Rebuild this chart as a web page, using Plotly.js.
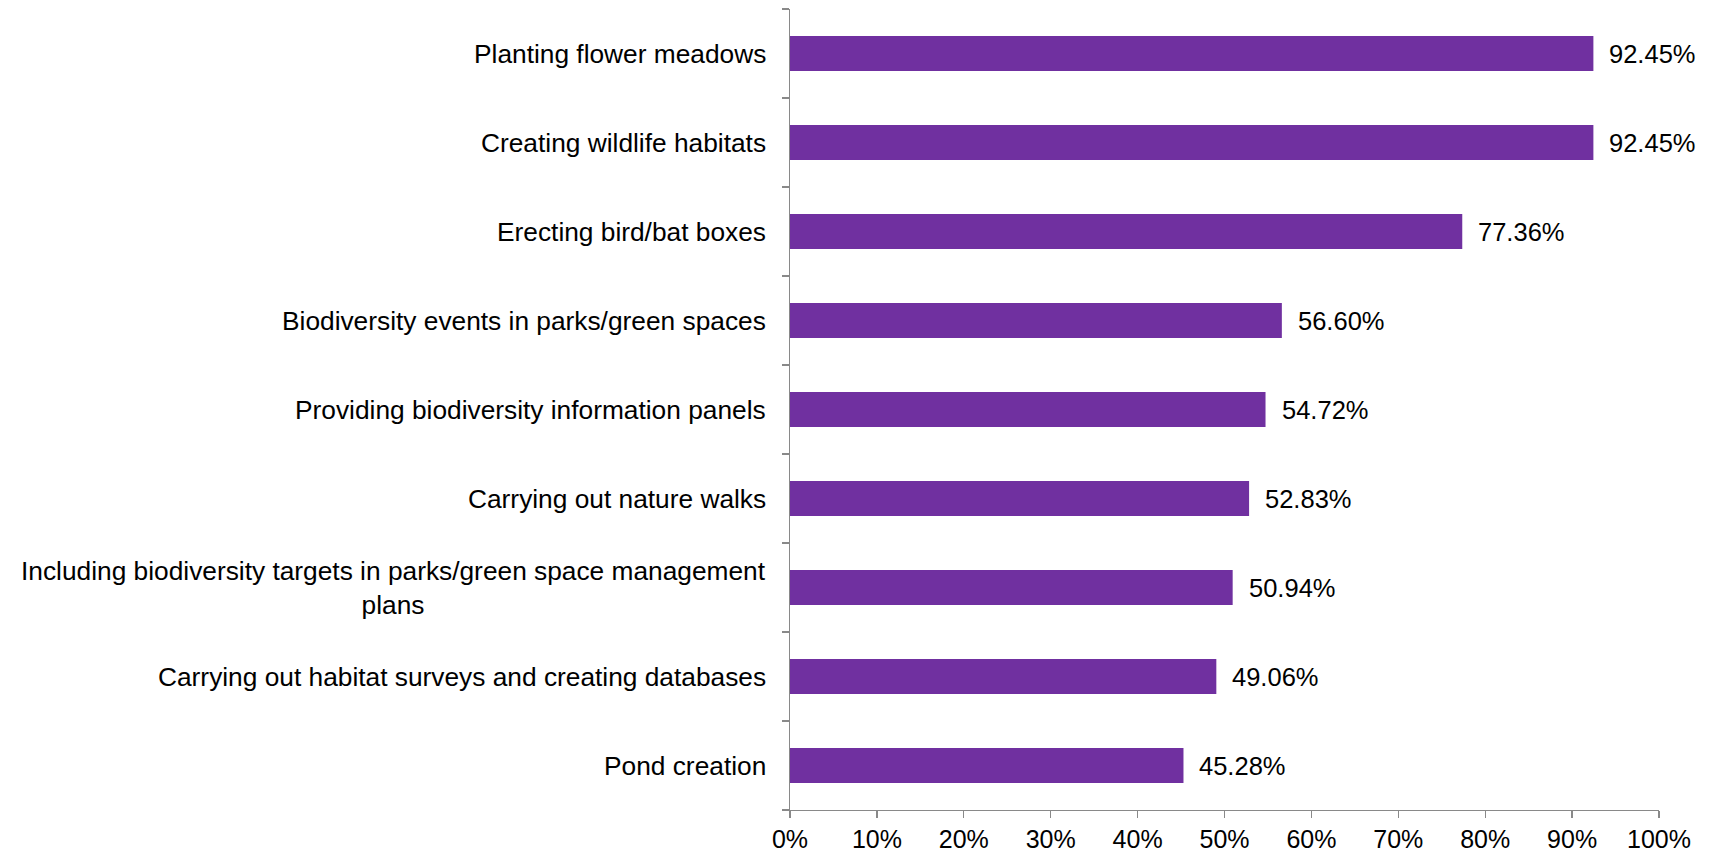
<!DOCTYPE html>
<html>
<head>
<meta charset="utf-8">
<script src="https://cdn.plot.ly/plotly-3.0.1.min.js"></script>
<style>html,body{margin:0;padding:0;background:#fff;}#chart{width:1717px;height:853px;}</style>
</head>
<body>
<div id="chart"></div>
<script>
const categories = [
  "Planting flower meadows",
  "Creating wildlife habitats",
  "Erecting bird/bat boxes",
  "Biodiversity events in parks/green spaces",
  "Providing biodiversity information panels",
  "Carrying out nature walks",
  "Including biodiversity targets in parks/green space management<br>plans",
  "Carrying out habitat surveys and creating databases",
  "Pond creation"
];
const values = [92.45, 92.45, 77.36, 56.60, 54.72, 52.83, 50.94, 49.06, 45.28];
const xTickValues = [0, 10, 20, 30, 40, 50, 60, 70, 80, 90, 100];
const xTickLabels = ["0%", "10%", "20%", "30%", "40%", "50%", "60%", "70%", "80%", "90%", "100%"];

const FONT = "Liberation Sans, Arial, sans-serif";
const yIdx = categories.map((c, i) => i);

const trace = {
  type: "bar",
  orientation: "h",
  x: values,
  y: yIdx,
  marker: {color: "#7030A0"},
  hoverinfo: "x+y"
};

const annotations = [];
categories.forEach((c, i) => {
  annotations.push({
    xref: "paper", yref: "y", x: 0, y: i, text: c,
    xanchor: "right", yanchor: "middle", align: "center", xshift: -22,
    showarrow: false, font: {family: FONT, size: 26.3, color: "#000"}
  });
  annotations.push({
    xref: "x", yref: "y", x: values[i], y: i, text: values[i].toFixed(2) + "%",
    xanchor: "left", yanchor: "middle", xshift: 14,
    showarrow: false, font: {family: FONT, size: 25.5, color: "#000"}
  });
});

const layout = {
  width: 1717, height: 853,
  margin: {l: 790, r: 58, t: 9, b: 43, pad: 0},
  paper_bgcolor: "#fff", plot_bgcolor: "#fff",
  showlegend: false,
  bargap: 0.607,
  font: {family: FONT, size: 25, color: "#000"},
  xaxis: {
    range: [0, 100], tickvals: xTickValues, ticktext: xTickLabels,
    showgrid: false, zeroline: false, showline: true, linecolor: "#898989", linewidth: 1.3,
    ticks: "outside", ticklen: 7, tickcolor: "#898989", tickwidth: 1.3,
    tickfont: {family: FONT, size: 25, color: "#000"}, fixedrange: true
  },
  yaxis: {
    type: "linear", range: [categories.length - 0.5, -0.5],
    tickvals: categories.map((c, i) => i - 0.5).concat([categories.length - 0.5]),
    showticklabels: false,
    showgrid: false, zeroline: false, showline: true, linecolor: "#898989", linewidth: 1.3,
    ticks: "outside", ticklen: 7, tickcolor: "#898989", tickwidth: 1.3, fixedrange: true
  },
  annotations: annotations
};

Plotly.newPlot("chart", [trace], layout, {displayModeBar: false, staticPlot: true});
</script>
</body>
</html>
